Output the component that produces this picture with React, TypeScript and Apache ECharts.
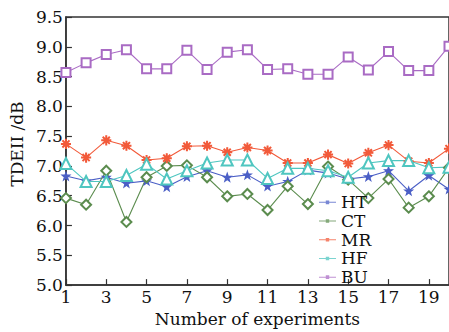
import React, { useEffect, useRef } from "react";
import * as echarts from "echarts";

const categories = ["1","2","3","4","5","6","7","8","9","10","11","12","13","14","15","16","17","18","19","20"];
const HT = [6.83, 6.75, 6.81, 6.71, 6.75, 6.65, 6.82, 6.92, 6.81, 6.85, 6.66, 6.74, 6.93, 6.88, 6.78, 6.82, 6.92, 6.58, 6.84, 6.61];
const CT = [6.46, 6.35, 6.92, 6.06, 6.81, 7.0, 7.01, 6.81, 6.49, 6.53, 6.26, 6.66, 6.36, 6.99, 6.77, 6.46, 6.78, 6.3, 6.49, 6.97];
const MR = [7.37, 7.14, 7.43, 7.34, 7.1, 7.13, 7.33, 7.34, 7.23, 7.31, 7.26, 7.05, 7.05, 7.19, 7.04, 7.22, 7.35, 7.08, 7.05, 7.29];
const HF = [7.04, 6.74, 6.74, 6.84, 7.03, 6.78, 6.92, 7.05, 7.1, 7.1, 6.79, 6.96, 6.96, 6.92, 6.81, 7.05, 7.09, 7.09, 6.97, 6.98];
const BU = [8.57, 8.73, 8.87, 8.95, 8.63, 8.63, 8.94, 8.62, 8.91, 8.95, 8.62, 8.63, 8.54, 8.54, 8.83, 8.61, 8.92, 8.6, 8.6, 9.01];

const STAR = "path://M0,-10 L2.35,-3.24 L9.51,-3.09 L3.8,1.24 L5.88,8.09 L0,4 L-5.88,8.09 L-3.8,1.24 L-9.51,-3.09 L-2.35,-3.24 Z";
const ASTER =
  "path://M-1,-10 L1,-10 L1,10 L-1,10 Z M-10,-1 L10,-1 L10,1 L-10,1 Z " +
  "M-6.3,-7.7 L7.7,6.3 L6.3,7.7 L-7.7,-6.3 Z M7.7,-6.3 L-6.3,7.7 L-7.7,6.3 L6.3,-7.7 Z";
const LEG_ICON = "path://M0,4.5 L17,4.5 L17,5.5 L0,5.5 Z M6.8,3.2 L10.2,3.2 L10.2,6.8 L6.8,6.8 Z M0,0 L0.01,0 L0.01,0.01 Z M17,10 L16.99,10 L16.99,9.99 Z";

const FONT = "DejaVu Serif";

export default function App() {
  const ref = useRef<HTMLDivElement>(null);
  useEffect(() => {
    if (!ref.current) return;
    const chart = echarts.init(ref.current, undefined, { renderer: "svg" });
    const mk = (name: string, data: number[], color: string, symbol: string, size: number) => ({
      name,
      type: "line",
      data,
      symbol,
      symbolSize: size,
      showAllSymbol: true,
      lineStyle: { color, width: 1.1 },
      itemStyle: { color, borderColor: color, borderWidth: 1.1 },
      clip: false,
    });
    const names = ["HT", "CT", "MR", "HF", "BU"];
    chart.setOption({
      animation: false,
      backgroundColor: "#fff",
      textStyle: { fontFamily: FONT },
      grid: {
        left: 62,
        top: 17,
        bottom: 40,
        right: -3.6,
        show: true,
        borderColor: "#333",
        borderWidth: 1.5,
        backgroundColor: "transparent",
      },
      legend: {
        orient: "vertical",
        left: 314,
        top: 188,
        itemWidth: 17,
        itemHeight: 10,
        itemGap: 0,
        itemStyle: { opacity: 0.75, borderWidth: 0 },
        textStyle: { fontFamily: FONT, fontSize: 17, lineHeight: 18.7, color: "#111" },
        data: names.map((n) => ({ name: n, icon: LEG_ICON })),
      },
      xAxis: {
        type: "category",
        data: categories,
        boundaryGap: false,
        name: "Number of experiments",
        nameLocation: "middle",
        nameGap: 21,
        nameTextStyle: { fontFamily: FONT, fontSize: 17, color: "#111" },
        axisLine: { lineStyle: { color: "#333", width: 1.5 } },
        axisTick: { inside: true, length: 6, interval: 1, lineStyle: { color: "#333", width: 1.2 } },
        axisLabel: { interval: 1, margin: 3, fontFamily: FONT, fontSize: 17, color: "#111" },
        splitLine: { show: false },
      },
      yAxis: {
        type: "value",
        min: 5,
        max: 9.5,
        interval: 0.5,
        name: "TDEII /dB",
        nameLocation: "middle",
        nameGap: 36,
        nameTextStyle: { fontFamily: FONT, fontSize: 17, color: "#111", padding: [0, 0, 0, 14] },
        axisLine: { show: true, lineStyle: { color: "#333", width: 1.5 } },
        axisTick: { show: true, inside: true, length: 6, lineStyle: { color: "#333", width: 1.2 } },
        axisLabel: { margin: 3, fontFamily: FONT, fontSize: 17, color: "#111", formatter: (v: number) => v.toFixed(1) },
        splitLine: { show: false },
      },
      series: [
        mk("HT", HT, "#4b5fc6", STAR, 8),
        mk("CT", CT, "#5b8c4e", "emptyDiamond", 10),
        mk("MR", MR, "#f25a3a", ASTER, 9),
        mk("HF", HF, "#4fc6c0", "emptyTriangle", 11),
        mk("BU", BU, "#a96bc4", "emptyRect", 9),
      ],
    });
    return () => chart.dispose();
  }, []);
  return (
    <div
      ref={ref}
      style={{ position: "fixed", left: 0, top: 0, width: 449, height: 332 }}
    />
  );
}
